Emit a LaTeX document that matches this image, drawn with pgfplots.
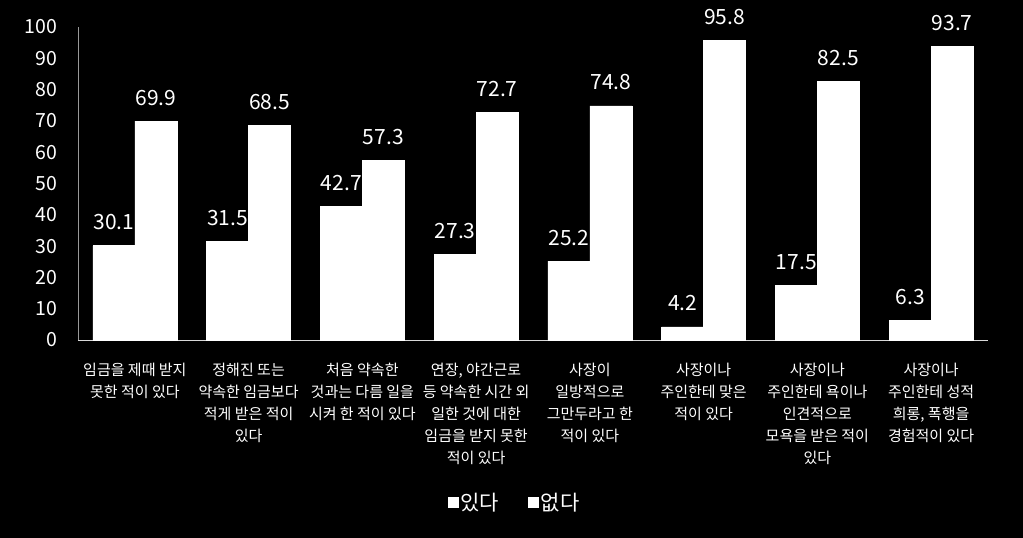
\documentclass[border=0pt]{standalone}
\usepackage{fontspec}
\setmainfont{Noto Sans CJK KR}
\usepackage{pgfplots}
\pgfplotsset{compat=1.18}
\begin{document}
\begin{tikzpicture}
\fill[black] (-78pt,-198pt) rectangle (945pt,340pt);
\begin{axis}[
  at={(0pt,0pt)}, anchor=south west,
  scale only axis, width=910pt, height=313pt,
  xmin=-0.5, xmax=7.5, ymin=0, ymax=100,
  ybar=0pt, bar width=42pt,
  axis x line=bottom, axis y line=left,
  x axis line style={-, draw=white!85!black, line width=0.8pt},
  y axis line style={-, draw=gray!80, line width=0.8pt},
  ytick={0,10,...,100},
  xtick={0,...,7},
  major tick length=0pt,
  tick style={draw=none},
  /pgf/number format/assume math mode=true,
  yticklabel style={font=\fontsize{19.5}{22}\selectfont, text=white, xshift=-17pt},
  xticklabel style={font=\fontsize{15}{22}\selectfont, text=white, align=center, yshift=-20pt},
  xticklabels={
    {임금을 제때 받지\\못한 적이 있다},
    {정해진 또는\\약속한 임금보다\\적게 받은 적이\\있다},
    {처음 약속한\\것과는 다름 일을\\시켜 한 적이 있다},
    {연장, 야간근로\\등 약속한 시간 외\\일한 것에 대한\\임금을 받지 못한\\적이 있다},
    {사장이\\일방적으로\\그만두라고 한\\적이 있다},
    {사장이나\\주인한테 맞은\\적이 있다},
    {사장이나\\주인한테 욕이나\\인견적으로\\모욕을 받은 적이\\있다},
    {사장이나\\주인한테 성적\\희롱, 폭행을\\경험적이 있다}
  },
  nodes near coords={\pgfmathprintnumber[fixed,fixed zerofill,precision=1]{\pgfplotspointmeta}},
  every node near coord/.append style={font=\fontsize{21}{24}\selectfont, text=white, anchor=south, yshift=12pt},
  legend style={at={(0.48,-0.52)}, anchor=center, draw=none, fill=black, text=white,
    font=\fontsize{21}{24}\selectfont, legend columns=2,
    /tikz/every even column/.append style={column sep=27pt}},
  legend image code/.code={\fill[white] (0pt,-5pt) rectangle (10pt,5pt);},
]
\addplot[fill=white, draw=white, line width=0.6pt] coordinates {(0,30.1) (1,31.5) (2,42.7) (3,27.3) (4,25.2) (5,4.2) (6,17.5) (7,6.3)};
\addplot[fill=white, draw=white, line width=0.6pt] coordinates {(0,69.9) (1,68.5) (2,57.3) (3,72.7) (4,74.8) (5,95.8) (6,82.5) (7,93.7)};
\legend{있다,없다}
\end{axis}
\pgfresetboundingbox
\useasboundingbox (-78pt,-198pt) rectangle (945pt,340pt);
\end{tikzpicture}
\end{document}
